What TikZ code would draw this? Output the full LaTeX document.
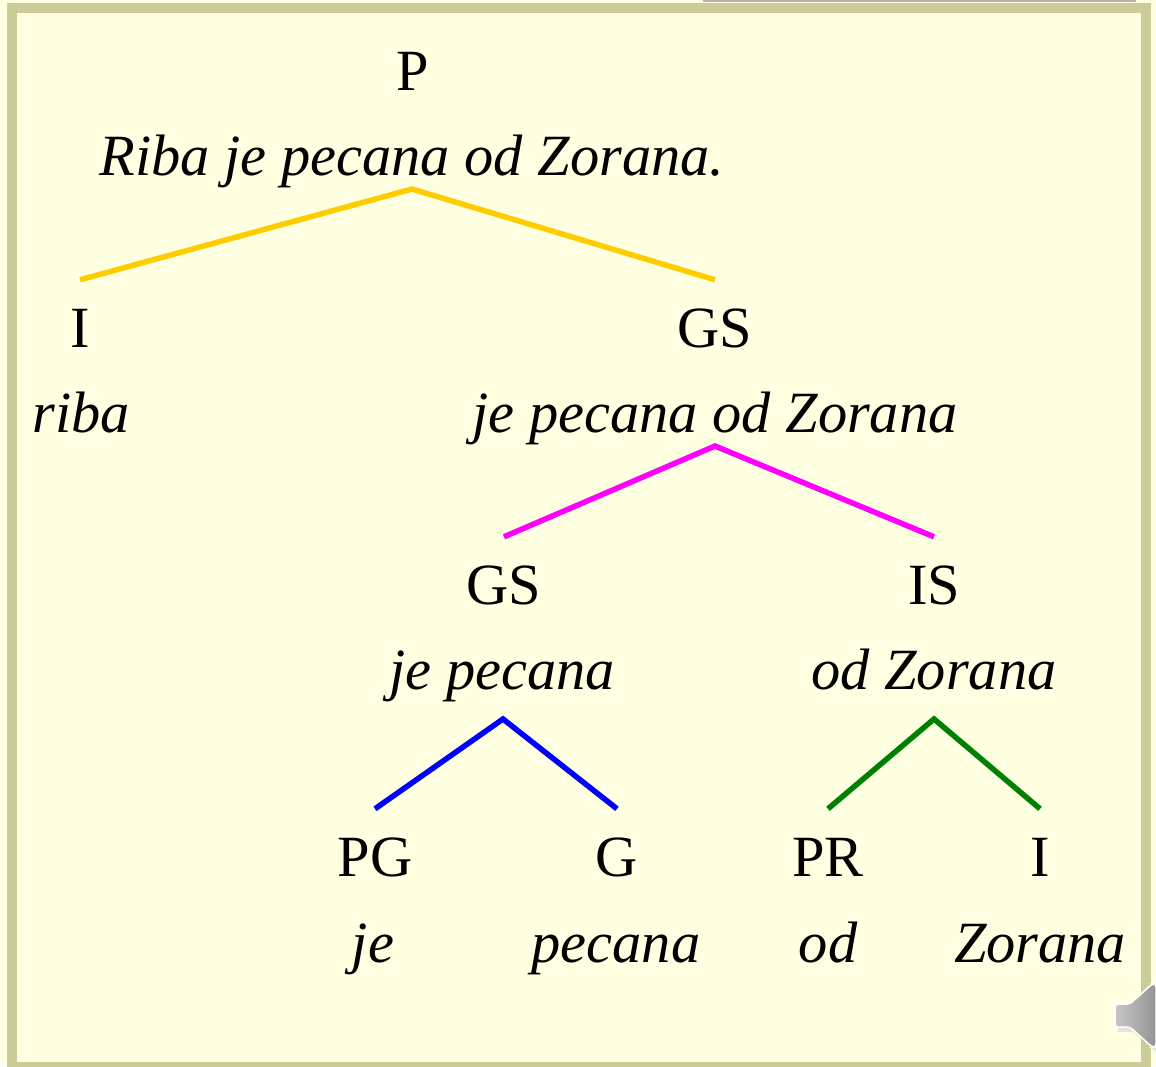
\documentclass[tikz,border=0pt]{standalone}
\usepackage{xcolor}
\usepackage{fontspec}
\setmainfont{Liberation Serif}
\definecolor{paper}{HTML}{FFFFE1}
\definecolor{framecol}{HTML}{CCCC99}
\definecolor{barcol}{HTML}{B2B2B2}
\definecolor{forkyellow}{HTML}{FFCC00}
\definecolor{forkmagenta}{HTML}{FF00FF}
\definecolor{forkblue}{HTML}{0000FF}
\definecolor{forkgreen}{HTML}{008000}
\tikzset{
  cat/.style={anchor=base,inner sep=0pt,text height=67pt,text depth=0pt,font=\fontsize{58.4}{64}\selectfont},
  phrase/.style={anchor=base,inner sep=0pt,font=\fontsize{58.4}{64}\selectfont\itshape},
  fork/.style={line width=5.5pt,miter limit=2}
}
\begin{document}
\begin{tikzpicture}[x=1pt,y=-1pt]
    \useasboundingbox (0,0) rectangle (1156,1066);
    \fill[paper] (0,0) rectangle (1156,1066);
    \fill[barcol] (703,0) rectangle (1136,2);
    \begin{scope}
    \clip (0,0) rectangle (1156,1066);
    \draw[framecol,line width=10pt,fill=paper] (12,8) rectangle (1146,1067);
    \end{scope}
    % top
    \node[cat] (p) at (413,90) {P};
    \node[phrase] (s) at (412,175) {Riba je pecana od Zorana.};
    \coordinate (sfork) at (412,189);
    % second row
    \node[cat] (i1) at (80,347) {I};
    \node[phrase] (riba) at (81,432) {riba};
    \node[cat] (gs1) at (715,347) {GS};
    \node[phrase] (vp) at (715,432) {je pecana od Zorana};
    \coordinate (vpfork) at (715,446);
    % third row
    \node[cat] (gs2) at (504,604) {GS};
    \node[phrase] (jepecana) at (502,689) {je pecana};
    \coordinate (gs2fork) at (503,719);
    \node[cat] (is) at (934,604) {IS};
    \node[phrase] (odzorana) at (934,689) {od Zorana};
    \coordinate (isfork) at (934,719);
    % last row
    \node[cat] (pg) at (375,876) {PG};
    \node[phrase] (je) at (373,962) {je};
    \node[cat] (g) at (617,876) {G};
    \node[phrase] (pecana) at (616,962) {pecana};
    \node[cat] (pr) at (828,876) {PR};
    \node[phrase] (od) at (828,962) {od};
    \node[cat] (i2) at (1040,876) {I};
    \node[phrase] (zorana) at (1040,962) {Zorana};
    % forks
    \draw[fork,forkyellow] (i1.north) -- (sfork) -- (gs1.north);
    \draw[fork,forkmagenta] (gs2.north) -- (vpfork) -- (is.north);
    \draw[fork,forkblue] (pg.north) -- (gs2fork) -- (g.north);
    \draw[fork,forkgreen] (pr.north) -- (isfork) -- (i2.north);
    % speaker
    \fill[black!25,opacity=.4] (1118,1008) -- (1133,1008) -- (1156,990) -- (1156,1052) -- (1133,1032) -- (1118,1032) -- cycle;
    \draw[white,line width=1.5pt,rounded corners=3pt,left color=black!22,right color=black!42] (1115,1004) -- (1130,1004) -- (1152,984) -- (1156,984) -- (1156,1047) -- (1152,1047) -- (1130,1027) -- (1115,1027) -- cycle;
\end{tikzpicture}
\end{document}
